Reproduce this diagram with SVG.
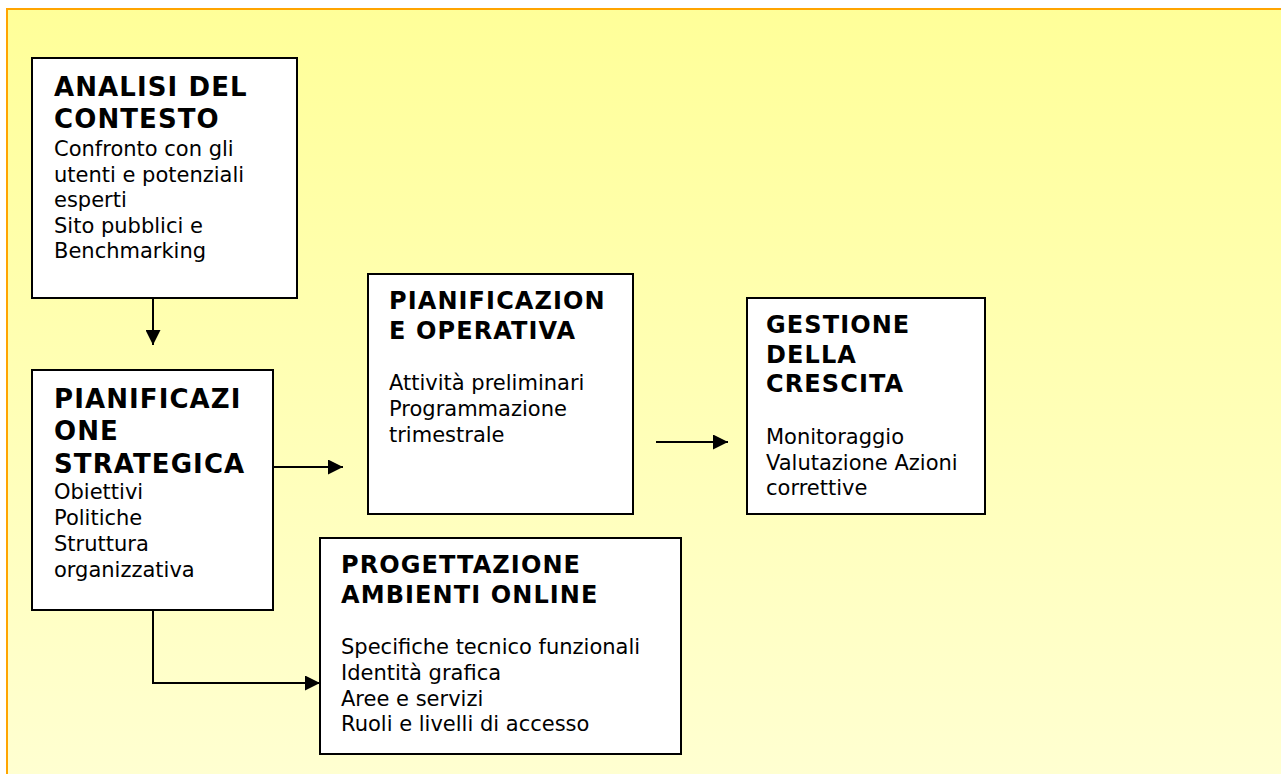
<svg xmlns="http://www.w3.org/2000/svg" width="1281" height="774" viewBox="0 0 1281 774">
<defs>
<linearGradient id="bg" x1="0" y1="0" x2="0" y2="1">
<stop offset="0" stop-color="#FFFF99"/>
<stop offset="1" stop-color="#FFFFD2"/>
</linearGradient>
<marker id="ah" viewBox="0 0 15 15" refX="15" refY="7.5" markerWidth="15" markerHeight="15" markerUnits="userSpaceOnUse" orient="auto">
<path d="M0,0 L15,7.5 L0,15 Z" fill="#000"/>
</marker>
<style>
.box{fill:#fff;stroke:#000;stroke-width:2}
.h{font-family:"DejaVu Sans",Verdana,sans-serif;font-weight:bold;fill:#000;letter-spacing:1.1px}
.t{font-family:"DejaVu Sans",Verdana,sans-serif;font-size:21px;fill:#000}
.c{fill:none;stroke:#000;stroke-width:2}
</style>
</defs>
<rect x="0" y="0" width="1281" height="774" fill="#fff"/>
<rect x="7" y="9" width="1290" height="780" fill="url(#bg)" stroke="#FFA500" stroke-width="2"/>

<g id="connectors">
<path class="c" d="M153,298 V345" marker-end="url(#ah)"/>
<path class="c" d="M273,467 H343" marker-end="url(#ah)"/>
<path class="c" d="M153,610 V683 H320" marker-end="url(#ah)"/>
<path class="c" d="M656,442 H728" marker-end="url(#ah)"/>
</g>

<g id="analisi">
<rect class="box" x="32" y="58" width="265" height="240"/>
<text class="h" font-size="26" x="54" y="96">ANALISI DEL</text>
<text class="h" font-size="26" x="54" y="128">CONTESTO</text>
<text class="t" x="54" y="156">Confronto con gli</text>
<text class="t" x="54" y="182">utenti e potenziali</text>
<text class="t" x="54" y="207">esperti</text>
<text class="t" x="54" y="233">Sito pubblici e</text>
<text class="t" x="54" y="258">Benchmarking</text>
</g>

<g id="strategica">
<rect class="box" x="32" y="370" width="241" height="240"/>
<text class="h" font-size="26" x="54" y="408">PIANIFICAZI</text>
<text class="h" font-size="26" x="54" y="440">ONE</text>
<text class="h" font-size="26" x="54" y="473">STRATEGICA</text>
<text class="t" x="54" y="499">Obiettivi</text>
<text class="t" x="54" y="525">Politiche</text>
<text class="t" x="54" y="551">Struttura</text>
<text class="t" x="54" y="577">organizzativa</text>
</g>

<g id="operativa">
<rect class="box" x="368" y="274" width="265" height="240"/>
<text class="h" font-size="24" x="389" y="309">PIANIFICAZION</text>
<text class="h" font-size="24" x="389" y="339">E OPERATIVA</text>
<text class="t" x="389" y="390">Attività preliminari</text>
<text class="t" x="389" y="416">Programmazione</text>
<text class="t" x="389" y="442">trimestrale</text>
</g>

<g id="gestione">
<rect class="box" x="747" y="298" width="238" height="216"/>
<text class="h" font-size="24" x="766" y="333">GESTIONE</text>
<text class="h" font-size="24" x="766" y="363">DELLA</text>
<text class="h" font-size="24" x="766" y="392">CRESCITA</text>
<text class="t" x="766" y="444">Monitoraggio</text>
<text class="t" x="766" y="470">Valutazione Azioni</text>
<text class="t" x="766" y="495">correttive</text>
</g>

<g id="progettazione">
<rect class="box" x="320" y="538" width="361" height="216"/>
<text class="h" font-size="24" x="341" y="573">PROGETTAZIONE</text>
<text class="h" font-size="24" x="341" y="603">AMBIENTI ONLINE</text>
<text class="t" x="341" y="654">Specifiche tecnico funzionali</text>
<text class="t" x="341" y="680">Identità grafica</text>
<text class="t" x="341" y="706">Aree e servizi</text>
<text class="t" x="341" y="731">Ruoli e livelli di accesso</text>
</g>
</svg>
